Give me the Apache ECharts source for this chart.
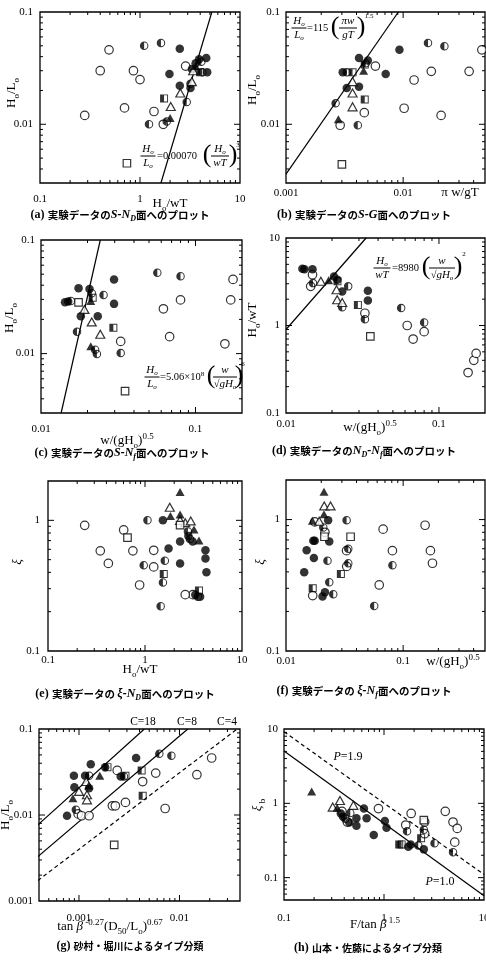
<!DOCTYPE html>
<html>
<head>
<meta charset="utf-8">
<script src="https://cdn.jsdelivr.net/npm/echarts@6/dist/echarts.min.js"></script>
<style>
  html, body { margin: 0; padding: 0; background: #fff; }
  #chart { width: 486px; height: 961px; }
</style>
</head>
<body>
<div id="chart"></div>
<script>
// ---- (a) S-N_D : x = Ho/wT, y = Ho/Lo
const aOpen = [[0.28,0.012],[0.40,0.030],[0.49,0.046],[0.70,0.014],[0.86,0.030],[1.0,0.025],[1.38,0.013],[1.71,0.010],[2.86,0.033]];
const aFill = [[1.97,0.028],[2.5,0.047],[2.5,0.022],[3.2,0.021],[3.6,0.035],[3.9,0.038],[4.6,0.039],[4.7,0.029],[3.3,0.031]];
const aHalf = [[1.1,0.050],[1.62,0.053],[1.23,0.010],[1.85,0.0106],[2.93,0.0158],[3.2,0.023],[4.2,0.029],[4.1,0.036]];
const aTriOpen = [[2.03,0.0144],[2.53,0.019],[3.3,0.024],[3.4,0.030]];
const aTriFill = [[2.0,0.0114],[3.6,0.033]];
const aSqOpen = [[0.74,0.0045]];
const aSqHalf = [[1.74,0.017],[4.0,0.029]];
const aLine = [[1.62,0.003],[5.23,0.1]];

// ---- (b) S-G : x = pi w/gT, y = Ho/Lo
const bOpen = [[0.00466,0.0127],[0.0058,0.033],[0.0102,0.0139],[0.0124,0.0248],[0.0174,0.0296],[0.0211,0.012],[0.0366,0.0296],[0.047,0.046],[0.0029,0.0098]];
const bFill = [[0.00305,0.029],[0.0033,0.021],[0.0042,0.039],[0.0042,0.0216],[0.005,0.037],[0.0071,0.028],[0.0093,0.046]];
const bHalf = [[0.00265,0.0154],[0.0033,0.029],[0.0041,0.0098],[0.0163,0.053],[0.0225,0.0496],[0.0048,0.035]];
const bTriOpen = [[0.0037,0.024],[0.0037,0.019],[0.0037,0.0143]];
const bTriFill = [[0.0028,0.0111],[0.0046,0.030]];
const bSqOpen = [[0.0030,0.0044]];
const bSqHalf = [[0.0037,0.029],[0.0047,0.0166],[0.0047,0.034]];
const bLine = [[0.001,0.0036],[0.0091,0.1]];

// ---- (c) S-N_f : x = w/(gHo)^0.5, y = Ho/Lo
const cOpen = [[0.0328,0.0128],[0.062,0.0248],[0.068,0.0141],[0.080,0.0297],[0.155,0.0122],[0.169,0.0297],[0.175,0.045]];
const cFill = [[0.0143,0.0283],[0.0150,0.0288],[0.0175,0.0377],[0.0181,0.0213],[0.0206,0.037],[0.0233,0.0213],[0.0297,0.045],[0.0297,0.0274]];
const cHalf = [[0.0156,0.029],[0.0171,0.0156],[0.0213,0.034],[0.0224,0.0108],[0.023,0.0099],[0.0254,0.0328],[0.0328,0.0101],[0.0566,0.0515],[0.080,0.048]];
const cTriOpen = [[0.0191,0.0245],[0.0213,0.0190],[0.0242,0.0148]];
const cTriFill = [[0.021,0.029],[0.021,0.0116]];
const cSqOpen = [[0.0175,0.0283],[0.035,0.00467]];
const cSqHalf = [[0.0216,0.031],[0.0294,0.0169]];
const cLine = [[0.0135,0.003],[0.0242,0.1]];

// ---- (d) N_D-N_f : x = w/(gHo)^0.5, y = Ho/wT
const dOpen = [[0.0145,2.8],[0.0328,1.38],[0.062,1.0],[0.0678,0.70],[0.080,0.85],[0.155,0.29],[0.169,0.40],[0.175,0.48],[0.0149,3.8]];
const dFill = [[0.0128,4.46],[0.0132,4.4],[0.0149,4.4],[0.0206,3.63],[0.0217,3.33],[0.0233,2.45],[0.0343,2.5],[0.0343,1.93]];
const dHalf = [[0.015,3.05],[0.0233,1.62],[0.0255,2.8],[0.0328,1.18],[0.0566,1.58],[0.080,1.08]];
const dTriOpen = [[0.0169,3.2],[0.0214,2.56],[0.0216,1.97],[0.0233,1.83]];
const dTriFill = [[0.0190,3.3]];
const dSqOpen = [[0.0356,0.75]];
const dSqHalf = [[0.0217,3.2],[0.0295,1.72]];
const dLine = [[0.01,0.9],[0.0334,10]];

// ---- (e) xi-N_D : x = Ho/wT, y = xi
const eOpen = [[0.239,0.916],[0.346,0.584],[0.419,0.468],[0.603,0.844],[0.75,0.584],[0.88,0.32],[1.23,0.59],[1.23,0.44],[3.12,0.27],[2.6,0.27]];
const eFill = [[1.53,1.0],[1.75,0.61],[2.3,0.69],[2.3,0.468],[2.8,0.76],[3.7,0.26],[4.2,0.59],[4.2,0.51],[4.3,0.40],[3.1,0.69],[3.3,0.27]];
const eHalf = [[0.97,0.453],[1.06,1.0],[1.45,0.22],[1.53,0.335],[1.6,0.49],[2.77,0.82],[2.9,0.72],[3.5,0.26]];
const eTriOpen = [[1.8,1.26],[2.3,1.0],[2.6,0.96],[2.96,0.99]];
const eTriFill = [[1.83,1.08],[2.3,1.65],[2.3,1.11],[3.2,0.85],[3.6,0.70]];
const eSqOpen = [[0.66,0.738],[2.3,0.92]];
const eSqHalf = [[1.56,0.388],[3.6,0.29]];

// ---- (f) xi-N_f : x = w/(gHo)^0.5, y = xi
const fOpen = [[0.0176,0.96],[0.0169,0.264],[0.0329,0.58],[0.033,0.44],[0.0675,0.845],[0.0625,0.318],[0.081,0.58],[0.154,0.905],[0.171,0.58],[0.178,0.465],[0.0215,0.80]];
const fFill = [[0.0229,0.99],[0.0171,0.69],[0.0176,0.69],[0.0234,0.68],[0.015,0.585],[0.0173,0.51],[0.0143,0.397],[0.0205,0.26],[0.0215,0.28]];
const fHalf = [[0.0208,0.87],[0.0226,0.487],[0.0234,0.334],[0.0253,0.27],[0.0329,0.99],[0.034,0.6],[0.034,0.465],[0.0566,0.22],[0.081,0.45]];
const fTriOpen = [[0.0212,1.27],[0.024,1.27],[0.0192,0.97]];
const fTriFill = [[0.0211,1.63],[0.0211,1.1],[0.0168,0.98]];
const fSqOpen = [[0.0213,0.74],[0.0356,0.74]];
const fSqHalf = [[0.0169,0.30],[0.0294,0.385]];

// ---- (g) Sunamura-Horikawa
const gOpen = [[0.00098,0.0103],[0.00106,0.0098],[0.00126,0.0098],[0.00215,0.0128],[0.0023,0.0128],[0.0024,0.033],[0.0029,0.014],[0.0043,0.0245],[0.0058,0.0307],[0.0072,0.0119],[0.0149,0.0294],[0.0209,0.046]];
const gFill = [[0.00076,0.0098],[0.00089,0.0286],[0.0009,0.021],[0.00115,0.0286],[0.00131,0.039],[0.00126,0.0205],[0.00182,0.036],[0.0026,0.028],[0.0037,0.046]];
const gHalf = [[0.00093,0.0115],[0.00126,0.0286],[0.0028,0.028],[0.0063,0.0516],[0.0083,0.049]];
const gTriOpen = [[0.001,0.0188],[0.00118,0.0245],[0.0012,0.0172],[0.0012,0.015]];
const gTriFill = [[0.00087,0.0157],[0.00161,0.0286],[0.00125,0.022]];
const gSqOpen = [[0.00224,0.0045]];
const gSqHalf = [[0.00192,0.036],[0.0029,0.0286],[0.0042,0.033],[0.0043,0.0167]];
const gLine18 = [[0.00039,0.00767],[0.00447,0.1]];
const gLine8 = [[0.00039,0.00329],[0.0121,0.1]];
const gLine4 = [[0.00039,0.00173],[0.0374,0.1]];

// ---- (h) Yamamoto-Sato
const hOpen = [[0.38,0.78],[0.43,0.56],[0.88,0.85],[1.65,0.51],[1.87,0.73],[2.55,0.56],[2.55,0.39],[4.1,0.78],[4.9,0.56],[5.4,0.46],[5.1,0.30]];
const hFill = [[0.37,0.73],[0.39,0.66],[0.45,0.55],[0.53,0.63],[0.53,0.50],[0.63,0.85],[0.67,0.63],[0.79,0.375],[1.02,0.58],[1.06,0.47],[1.75,0.26],[1.85,0.28],[2.5,0.24]];
const hHalf = [[0.41,0.62],[0.46,0.74],[1.7,0.42],[2.2,0.27],[2.5,0.44],[3.2,0.29],[4.9,0.22]];
const hTriOpen = [[0.307,0.89],[0.363,1.09],[0.494,0.94]];
const hTriFill = [[0.189,1.44],[0.34,0.87]];
const hSqOpen = [[2.5,0.595]];
const hSqHalf = [[1.42,0.28],[1.5,0.28],[2.35,0.34]];
const hLineP10 = [[0.1,5.06],[10,0.057]];
const hLineP19 = [[0.1,9.2],[10,0.11]];

const SERIF = '"Liberation Serif","DejaVu Serif",serif';
const CJK = '"Noto Sans CJK JP","Noto Sans CJK SC",sans-serif';

// half filled markers: left half solid, right half a thin ring (hole wound the other way)
const HALF_CIRCLE = 'path://M10,0A10,10 0 0,1 10,20A10,10 0 0,1 10,0ZM10,2.4L10,17.6A7.6,7.6 0 0,0 10,2.4Z';
const HALF_SQUARE = 'path://M0,0H20V20H0ZM10,2.4V17.6H17.6V2.4Z';
const OPEN = {color: '#fff', borderColor: '#000', borderWidth: 1.2};
const FILL = {color: '#000'};
const KINDS = {
    open: ['circle', 8.5, OPEN],
    fill: ['circle', 8.5, FILL],
    half: [HALF_CIRCLE, 8.5, FILL],
    triOpen: ['triangle', [9, 8], OPEN],
    triFill: ['triangle', [9, 8], FILL],
    sqOpen: ['rect', 7.5, OPEN],
    sqHalf: [HALF_SQUARE, 8, FILL]
};

const panels = [
    {box: {left: 40, top: 12, width: 200, height: 171}, x: [0.1, 10], y: [0.003, 0.1], xm: 11, ym: 7,
        pts: {open: aOpen, half: aHalf, fill: aFill, triOpen: aTriOpen, triFill: aTriFill, sqOpen: aSqOpen, sqHalf: aSqHalf},
        lines: [[aLine, false]]},
    {box: {left: 286, top: 12, width: 199, height: 171}, x: [0.001, 0.05], y: [0.003, 0.1], xm: 5, ym: 6,
        pts: {open: bOpen, half: bHalf, fill: bFill, triOpen: bTriOpen, triFill: bTriFill, sqOpen: bSqOpen, sqHalf: bSqHalf},
        lines: [[bLine, false]]},
    {box: {left: 41, top: 240, width: 201, height: 173}, x: [0.01, 0.2], y: [0.003, 0.1], xm: 11, ym: 6,
        pts: {open: cOpen, half: cHalf, fill: cFill, triOpen: cTriOpen, triFill: cTriFill, sqOpen: cSqOpen, sqHalf: cSqHalf},
        lines: [[cLine, false]]},
    {box: {left: 286, top: 238, width: 199, height: 175}, x: [0.01, 0.2], y: [0.1, 10], xm: 6, ym: 6,
        pts: {open: dOpen, half: dHalf, fill: dFill, triOpen: dTriOpen, triFill: dTriFill, sqOpen: dSqOpen, sqHalf: dSqHalf},
        lines: [[dLine, false]]},
    {box: {left: 48, top: 481, width: 194, height: 170}, x: [0.1, 10], y: [0.1, 2], xm: 4, ym: 8,
        pts: {open: eOpen, half: eHalf, fill: eFill, triOpen: eTriOpen, triFill: eTriFill, sqOpen: eSqOpen, sqHalf: eSqHalf},
        lines: []},
    {box: {left: 286, top: 480, width: 199, height: 171}, x: [0.01, 0.5], y: [0.1, 2], xm: 5, ym: 6,
        pts: {open: fOpen, half: fHalf, fill: fFill, triOpen: fTriOpen, triFill: fTriFill, sqOpen: fSqOpen, sqHalf: fSqHalf},
        lines: []},
    {box: {left: 39, top: 729, width: 201, height: 172}, x: [0.0004, 0.04], y: [0.001, 0.1], xm: 12, ym: 6,
        pts: {open: gOpen, half: gHalf, fill: gFill, triOpen: gTriOpen, triFill: gTriFill, sqOpen: gSqOpen, sqHalf: gSqHalf},
        lines: [[gLine18, false], [gLine8, false], [gLine4, true]]},
    {box: {left: 284, top: 729, width: 200, height: 171}, x: [0.1, 10], y: [0.05, 10], xm: 13, ym: 6,
        pts: {open: hOpen, half: hHalf, fill: hFill, triOpen: hTriOpen, triFill: hTriFill, sqOpen: hSqOpen, sqHalf: hSqHalf},
        lines: [[hLineP10, false], [hLineP19, true]]}
];

function decadeLabel(v) {
    const e = Math.log10(v);
    if (Math.abs(e - Math.round(e)) > 1e-6) return '';
    const k = Math.round(e);
    return k >= 0 ? String(Math.pow(10, k)) : Math.pow(10, k).toFixed(-k);
}

function logAxis(i, range, margin) {
    return {
        type: 'log', logBase: 10, gridIndex: i, min: range[0], max: range[1],
        axisLine: {show: false}, axisTick: {show: false}, minorTick: {show: false},
        splitLine: {show: false}, minorSplitLine: {show: false},
        axisLabel: {margin, color: '#000', fontFamily: SERIF, fontSize: 11, formatter: decadeLabel, hideOverlap: false}
    };
}

// 1..9 x 10^k inside the range, for the tick marks on all four sides
function logTicks(range) {
    const out = [];
    for (let k = Math.floor(Math.log10(range[0])); k <= Math.ceil(Math.log10(range[1])); k++) {
        for (let m = 1; m <= 9; m++) {
            const v = m * Math.pow(10, k);
            if (v > range[0] * 1.0001 && v < range[1] / 1.0001) out.push([v, m === 1]);
        }
    }
    return out;
}

function tickSeries(i, xr, yr) {
    const data = [];
    logTicks(xr).forEach(([v, major]) => data.push([v, yr[0], major ? 0 : 1]));
    logTicks(yr).forEach(([v, major]) => data.push([xr[0], v, major ? 2 : 3]));
    return {
        type: 'custom', xAxisIndex: i, yAxisIndex: i, data, silent: true, clip: false, z: 5,
        renderItem(params, api) {
            const cs = params.coordSys;
            const kind = api.value(2);
            const len = (kind === 0 || kind === 2) ? 6 : 3;
            const p = api.coord([api.value(0), api.value(1)]);
            let s1, s2;
            if (kind < 2) {
                s1 = {x1: p[0], y1: cs.y + cs.height, x2: p[0], y2: cs.y + cs.height - len};
                s2 = {x1: p[0], y1: cs.y, x2: p[0], y2: cs.y + len};
            } else {
                s1 = {x1: cs.x, y1: p[1], x2: cs.x + len, y2: p[1]};
                s2 = {x1: cs.x + cs.width, y1: p[1], x2: cs.x + cs.width - len, y2: p[1]};
            }
            return {type: 'group', children: [
                {type: 'line', shape: s1, style: {stroke: '#000', lineWidth: 1}},
                {type: 'line', shape: s2, style: {stroke: '#000', lineWidth: 1}}
            ]};
        }
    };
}

function marks(i, kind, data) {
    const [symbol, size, style] = KINDS[kind];
    return {type: 'scatter', xAxisIndex: i, yAxisIndex: i, data, symbol, symbolSize: size,
        itemStyle: style, silent: true, z: 3};
}

function fitLine(i, data, dashed) {
    return {type: 'line', xAxisIndex: i, yAxisIndex: i, data, symbol: 'none', showSymbol: false,
        lineStyle: {color: '#000', width: 1.2, type: dashed ? [4, 3] : 'solid'}, silent: true, z: 2};
}

const grid = [], xAxis = [], yAxis = [], series = [];
panels.forEach((p, i) => {
    grid.push(Object.assign({show: true, borderColor: '#000', borderWidth: 1.3, backgroundColor: 'transparent',
        containLabel: false, outerBoundsMode: 'none'}, p.box));
    xAxis.push(logAxis(i, p.x, p.xm));
    yAxis.push(logAxis(i, p.y, p.ym));
    p.lines.forEach(([d, dashed]) => series.push(fitLine(i, d, dashed)));
    Object.keys(p.pts).forEach(k => series.push(marks(i, k, p.pts[k])));
    series.push(tickSeries(i, p.x, p.y));
});

// ---- texts
const RICH = {
    m: {fontFamily: SERIF, fontSize: 13, lineHeight: 18},
    i: {fontFamily: SERIF, fontSize: 13, fontStyle: 'italic', lineHeight: 18},
    s: {fontFamily: SERIF, fontSize: 9, lineHeight: 10, verticalAlign: 'bottom'},
    p: {fontFamily: SERIF, fontSize: 9, lineHeight: 10, verticalAlign: 'top'}
};
const EQ = {
    m: {fontFamily: SERIF, fontSize: 10.5, lineHeight: 13},
    i: {fontFamily: SERIF, fontSize: 11, fontStyle: 'italic', lineHeight: 13},
    s: {fontFamily: SERIF, fontSize: 7, fontStyle: 'italic', lineHeight: 7, verticalAlign: 'bottom'},
    p: {fontFamily: SERIF, fontSize: 7, lineHeight: 7, verticalAlign: 'top'}
};
const CAP = {
    r: {fontFamily: SERIF, fontSize: 12, fontWeight: 'bold', lineHeight: 16},
    b: {fontFamily: CJK, fontSize: 10.5, fontWeight: 'bold', lineHeight: 16},
    g: {fontFamily: CJK, fontSize: 10, fontWeight: 'bold', lineHeight: 16},
    i: {fontFamily: SERIF, fontSize: 12, fontStyle: 'italic', fontWeight: 'bold', lineHeight: 16},
    s: {fontFamily: SERIF, fontSize: 8, fontStyle: 'italic', fontWeight: 'bold', lineHeight: 9, verticalAlign: 'bottom'}
};

function txt(x, y, text, rich, opt = {}) {
    return {type: 'text', x, y, rotation: opt.rot || 0, z: 100, silent: true,
        style: {text, rich, fill: '#000', font: opt.font || ('13px ' + SERIF),
            align: opt.align || 'center', textAlign: opt.align || 'center',
            verticalAlign: 'middle', textVerticalAlign: 'middle'}};
}
function frac(cx, cy, num, den, w) {
    return [
        txt(cx, cy - 7, num, EQ),
        {type: 'line', z: 100, silent: true, shape: {x1: cx - w / 2, y1: cy, x2: cx + w / 2, y2: cy},
            style: {stroke: '#000', lineWidth: 1}},
        txt(cx, cy + 7, den, EQ)
    ];
}
function paren(x, y, ch) {
    return txt(x, y, ch, null, {font: '26px ' + SERIF});
}
const ROT = {rot: Math.PI / 2};
const HoLo = '{m|H}{s|o}{m|/L}{s|o}';
const HoWT = '{m|H}{s|o}{m|/wT}';
const WGH = '{m|w/(gH}{s|o}{m|)}{p|0.5}';
const ROOT = '{m|√}{i|gH}{s|o}';

const graphic = [
    // axis titles
    txt(170, 204, HoWT, RICH), txt(12, 93, HoLo, RICH, ROT),
    txt(460, 193, '{m|π w/gT}', RICH), txt(253, 90, HoLo, RICH, ROT),
    txt(127, 441, WGH, RICH), txt(10, 318, HoLo, RICH, ROT),
    txt(370, 428, WGH, RICH), txt(253, 320, HoWT, RICH, ROT),
    txt(140, 670, HoWT, RICH), txt(18, 562, '{i|ξ}', RICH, ROT),
    txt(453, 662, WGH, RICH), txt(261, 562, '{i|ξ}', RICH, ROT),
    txt(110, 927, '{m|tan }{i|β}{p| -0.27}{m|(D}{s|50}{m|/L}{s|o}{m|)}{p|0.67}', RICH), txt(6, 815, HoLo, RICH, ROT),
    txt(375, 925, '{m|F/tan }{i|β}{p| 1.5}', RICH), txt(258, 805, '{i|ξ}{s| b}', RICH, ROT),
    // captions
    txt(120, 215, '{r|(a)} {b|実験データの}{i|S-N}{s|D}{b|面へのプロット}', CAP),
    txt(364, 215, '{r|(b)} {b|実験データの}{i|S-G}{b|面へのプロット}', CAP),
    txt(122, 453, '{r|(c)} {b|実験データの}{i|S-N}{s|f}{b|面へのプロット}', CAP),
    txt(364, 451, '{r|(d)} {b|実験データの}{i|N}{s|D}{i|-N}{s|f}{b|面へのプロット}', CAP),
    txt(125, 694, '{r|(e)} {b|実験データの }{i|ξ-N}{s|D}{b|面へのプロット}', CAP),
    txt(364, 691, '{r|(f)} {b|実験データの }{i|ξ-N}{s|f}{b|面へのプロット}', CAP),
    txt(130, 946, '{r|(g)} {g|砂村・堀川によるタイプ分類}', CAP),
    txt(368, 948, '{r|(h)} {g|山本・佐藤によるタイプ分類}', CAP),
    // line labels
    txt(143, 722, '{m|C=18}', {m: {fontFamily: SERIF, fontSize: 11.5}}),
    txt(187, 722, '{m|C=8}', {m: {fontFamily: SERIF, fontSize: 11.5}}),
    txt(227, 722, '{m|C=4}', {m: {fontFamily: SERIF, fontSize: 11.5}}),
    txt(348, 757, '{i|P}{m|=1.9}', {i: {fontFamily: SERIF, fontSize: 12, fontStyle: 'italic'}, m: {fontFamily: SERIF, fontSize: 12}}),
    txt(440, 882, '{i|P}{m|=1.0}', {i: {fontFamily: SERIF, fontSize: 12, fontStyle: 'italic'}, m: {fontFamily: SERIF, fontSize: 12}}),
    // equation (a)
    ...frac(148, 156, '{i|H}{s|o}', '{i|L}{s|o}', 15),
    txt(157, 156, '{m|=0.00070}', EQ, {align: 'left'}),
    paren(207, 155, '('), ...frac(220, 156, '{i|H}{s|o}', '{i|wT}', 18), paren(233, 155, ')'),
    txt(238, 145, '{p|3}', EQ),
    // equation (b)
    ...frac(299, 28, '{i|H}{s|o}', '{i|L}{s|o}', 15),
    txt(307, 28, '{m|=115}', EQ, {align: 'left'}),
    paren(335, 27, '('), ...frac(348, 28, '{i|πw}', '{i|gT}', 18), paren(361, 27, ')'),
    txt(369, 16, '{p|1.5}', EQ),
    // equation (c)
    ...frac(152, 377, '{i|H}{s|o}', '{i|L}{s|o}', 15),
    txt(160, 377, '{m|=5.06×10}{p|8}', EQ, {align: 'left'}),
    paren(211, 376, '('), ...frac(225, 377, '{i|w}', ROOT, 24), paren(239, 376, ')'),
    txt(243, 364, '{p|6}', EQ),
    // equation (d)
    ...frac(382, 268, '{i|H}{s|o}', '{i|wT}', 17),
    txt(392, 268, '{m|=8980}', EQ, {align: 'left'}),
    paren(426, 267, '('), ...frac(442, 268, '{i|w}', ROOT, 26), paren(458, 267, ')'),
    txt(464, 254, '{p|2}', EQ)
];

const chart = echarts.init(document.getElementById('chart'), null, {renderer: 'canvas'});
chart.setOption({
    animation: false,
    backgroundColor: '#fff',
    grid, xAxis, yAxis, series, graphic
});
</script>
</body>
</html>
